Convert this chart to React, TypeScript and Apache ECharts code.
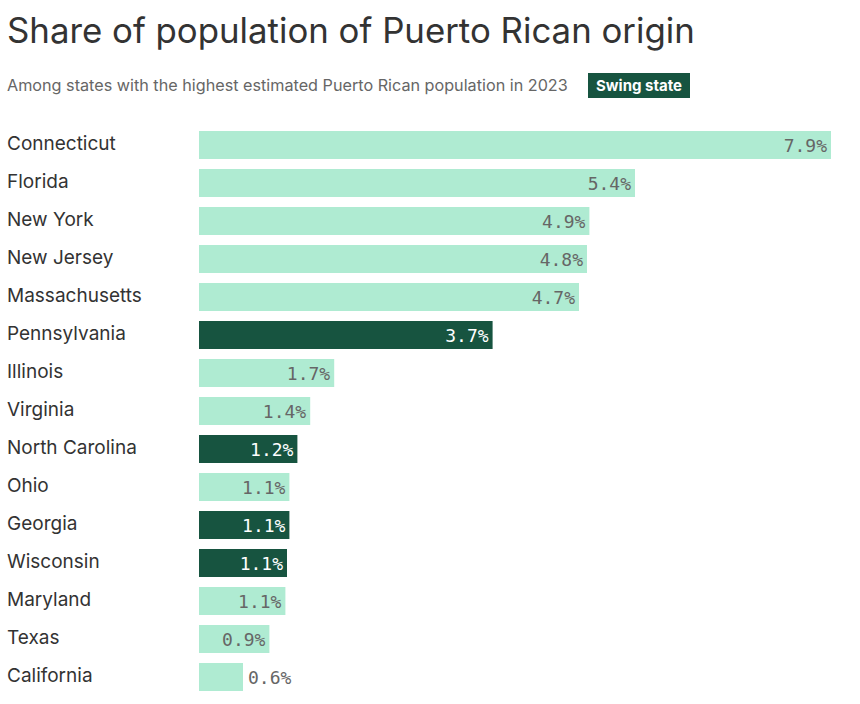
import React, { useEffect, useRef } from "react";
import * as echarts from "echarts";

const categories = [
  "Connecticut", "Florida", "New York", "New Jersey", "Massachusetts",
  "Pennsylvania", "Illinois", "Virginia", "North Carolina", "Ohio",
  "Georgia", "Wisconsin", "Maryland", "Texas", "California",
];
const values = [7.9, 5.45, 4.88, 4.85, 4.75, 3.67, 1.69, 1.39, 1.23, 1.13, 1.13, 1.1, 1.08, 0.88, 0.55];
const labels = ["7.9%", "5.4%", "4.9%", "4.8%", "4.7%", "3.7%", "1.7%", "1.4%", "1.2%", "1.1%", "1.1%", "1.1%", "1.1%", "0.9%", "0.6%"];
const swing = [false, false, false, false, false, true, false, false, true, false, true, true, false, false, false];
const outsideLabel = [false, false, false, false, false, false, false, false, false, false, false, false, false, false, true];

const DARK = "#175440";
const LIGHT = "#AFEBD2";
const SANS = "Inter, 'Noto Sans', sans-serif";
const MONO = "'DejaVu Sans Mono', 'Liberation Mono', monospace";

export default function App() {
  const ref = useRef<HTMLDivElement>(null);
  useEffect(() => {
    if (!ref.current) return;
    const chart = echarts.init(ref.current, undefined, { renderer: "svg" });
    const data = values.map((v, i) => ({
      value: v,
      itemStyle: { color: swing[i] ? DARK : LIGHT },
      label: {
        show: true,
        formatter: labels[i],
        position: outsideLabel[i] ? "right" : "insideRight",
        distance: outsideLabel[i] ? 5 : 4,
        color: swing[i] ? "#ffffff" : "#666666",
        fontFamily: MONO,
        fontSize: 18,
      },
    }));
    chart.setOption({
      animation: false,
      backgroundColor: "#ffffff",
      grid: { left: 199, right: 21, top: 126, bottom: 8, containLabel: false },
      xAxis: {
        type: "value",
        min: 0,
        max: 8,
        show: false,
      },
      yAxis: {
        type: "category",
        data: categories,
        inverse: true,
        axisLine: { show: false },
        axisTick: { show: false },
        axisLabel: {
          align: "left",
          margin: 192,
          formatter: (v: string) => `{c|${v}}`,
          rich: {
            c: {
              color: "#333333",
              fontFamily: SANS,
              fontSize: 19,
              padding: [0, 0, 4, 0],
            },
          },
        },
      },
      series: [
        {
          type: "bar",
          data,
          barWidth: 28,
        },
      ],
      graphic: [
        {
          type: "text",
          left: 7,
          top: 12,
          style: {
            text: "Share of population of Puerto Rican origin",
            fill: "#333333",
            font: `34.8px ${SANS}`,
          },
        },
        {
          type: "text",
          left: 7,
          top: 77,
          style: {
            text: "Among states with the highest estimated Puerto Rican population in 2023",
            fill: "#666666",
            font: `16.2px ${SANS}`,
          },
        },
        {
          type: "rect",
          shape: { x: 588, y: 73, width: 102, height: 25 },
          style: { fill: DARK },
        },
        {
          type: "text",
          x: 639,
          y: 85.5,
          style: {
            text: "Swing state",
            fill: "#ffffff",
            font: `bold 15px ${SANS}`,
            textAlign: "center",
            textVerticalAlign: "middle",
          },
        },
      ],
    });
    return () => chart.dispose();
  }, []);
  return (
    <div
      ref={ref}
      style={{ position: "fixed", left: 0, top: 0, width: 860, height: 704 }}
    />
  );
}
